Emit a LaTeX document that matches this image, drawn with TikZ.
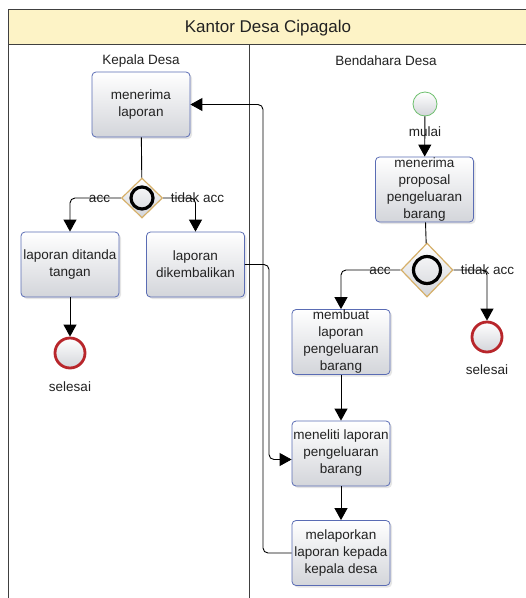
\documentclass[tikz,border=0pt]{standalone}
\usepackage{fontspec}
\setmainfont{Liberation Sans}
\usetikzlibrary{shapes.geometric}
\usetikzlibrary{arrows.meta}
\usetikzlibrary{shadows}

\definecolor{laneyellow}{HTML}{FDF3C6}
\definecolor{taskblue}{HTML}{5A6CB4}
\definecolor{taskgray}{HTML}{D3D5DA}
\definecolor{gatetan}{HTML}{D6B069}
\definecolor{endred}{HTML}{B8262B}
\definecolor{startgreen}{HTML}{6DBF6D}
\definecolor{textgray}{HTML}{222222}

\tikzset{
  task/.style={rectangle, rounded corners=4pt, draw=taskblue, line width=.8pt,
    top color=white, bottom color=taskgray, minimum width=98pt, minimum height=65pt,
    align=center, inner sep=0pt, font=\fontsize{13.5}{17}\selectfont, text=textgray,
    drop shadow={opacity=.2, shadow xshift=2pt, shadow yshift=-2pt}},
  gate/.style={diamond, draw=gatetan, line width=1.2pt, top color=white,
    bottom color=taskgray, inner sep=0pt,
    path picture={\draw[draw=black, line width=3.2pt] (path picture bounding box.center) circle[radius=#1];}},
  event/.style={circle, inner sep=0pt, top color=white, bottom color=taskgray},
  flow/.style={line width=.9pt, rounded corners=5pt, -{Triangle[width=13pt,length=12pt]}},
  plain/.style={line width=.9pt},
  lbl/.style={font=\fontsize{13.5}{16}\selectfont, text=textgray, inner sep=0pt},
  gatelbl/.style={lbl, anchor=base},
}

\begin{document}
\begin{tikzpicture}[x=1pt,y=-1pt]
\useasboundingbox (0,0) rectangle (526,598);
\fill[white] (0,0) rectangle (526,598);

% pool and lanes
\fill[laneyellow] (8,9) rectangle (530,44);
\draw[black!75, line width=.9pt] (8,600) -- (8,9) -- (530,9);
\draw[black!75, line width=.9pt] (8,44) -- (530,44);
\draw[black!75, line width=.9pt] (249,44) -- (249,600);
\node[lbl, font=\fontsize{17}{20}\selectfont] (pool) at (268,28) {Kantor Desa Cipagalo};
\node[lbl] (laneKepala) at (141,61) {Kepala Desa};
\node[lbl] (laneBendahara) at (386,61) {Bendahara Desa};

% Kepala Desa
\node[task] (terima) at (141,104.5) {menerima\\laporan};
\node[gate=11pt, minimum width=41pt, minimum height=40pt] (gwKepala) at (142,198) {};
\node[gatelbl] (accKepala) at (99.5,202.5) {acc};
\node[gatelbl] (tolakKepala) at (197.5,202.5) {tidak acc};
\node[task] (ditanda) at (70,264.5) {laporan ditanda\\tangan};
\node[task] (kembali) at (195.5,264.5) {laporan\\dikembalikan};
\node[event, draw=endred, line width=2.8pt, minimum size=30pt] (selesaiKepala) at (70,353) {};
\node[lbl] (lblSelesaiKepala) at (70,387) {selesai};

% Bendahara Desa
\node[event, draw=startgreen, line width=.8pt, minimum size=24pt] (mulai) at (425,104) {};
\node[lbl] (lblMulai) at (425,132) {mulai};
\node[task] (proposal) at (424.5,189.5) {menerima\\proposal\\pengeluaran\\barang};
\node[gate=13.5pt, minimum width=52pt, minimum height=54pt] (gwBendahara) at (427,270) {};
\node[gatelbl] (accBendahara) at (380,274.5) {acc};
\node[gatelbl] (tolakBendahara) at (487.5,274.5) {tidak acc};
\node[task] (membuat) at (341,342) {membuat\\laporan\\pengeluaran\\barang};
\node[event, draw=endred, line width=2.8pt, minimum size=30pt] (selesaiBendahara) at (487,337) {};
\node[lbl] (lblSelesaiBendahara) at (487,370) {selesai};
\node[task] (teliti) at (341,453.5) {meneliti laporan\\pengeluaran\\barang};
\node[task] (lapor) at (341,553) {melaporkan\\laporan kepada\\kepala desa};

\coordinate (busKembali) at (269,0);
\coordinate (busLapor) at (263,0);

% flows
\draw[plain] (terima) -- (gwKepala);
\draw[flow] (gwKepala.west) -| (ditanda.north);
\draw[flow] (gwKepala.east) -| (kembali.north);
\draw[flow] (ditanda) -- (selesaiKepala);
\draw[flow] (kembali.east) -- (kembali.east -| busKembali) |- ([yshift=-6pt]teliti.west);
\draw[flow] (lapor.west) -- (lapor.west -| busLapor) |- (terima.east);

\draw[flow] (mulai) -- (proposal);
\draw[plain] (proposal) -- (gwBendahara);
\draw[flow] (gwBendahara.west) -| (membuat.north);
\draw[flow] (gwBendahara.east) -| (selesaiBendahara.north);
\draw[flow] (membuat) -- (teliti);
\draw[flow] (teliti) -- (lapor);
\end{tikzpicture}
\end{document}
